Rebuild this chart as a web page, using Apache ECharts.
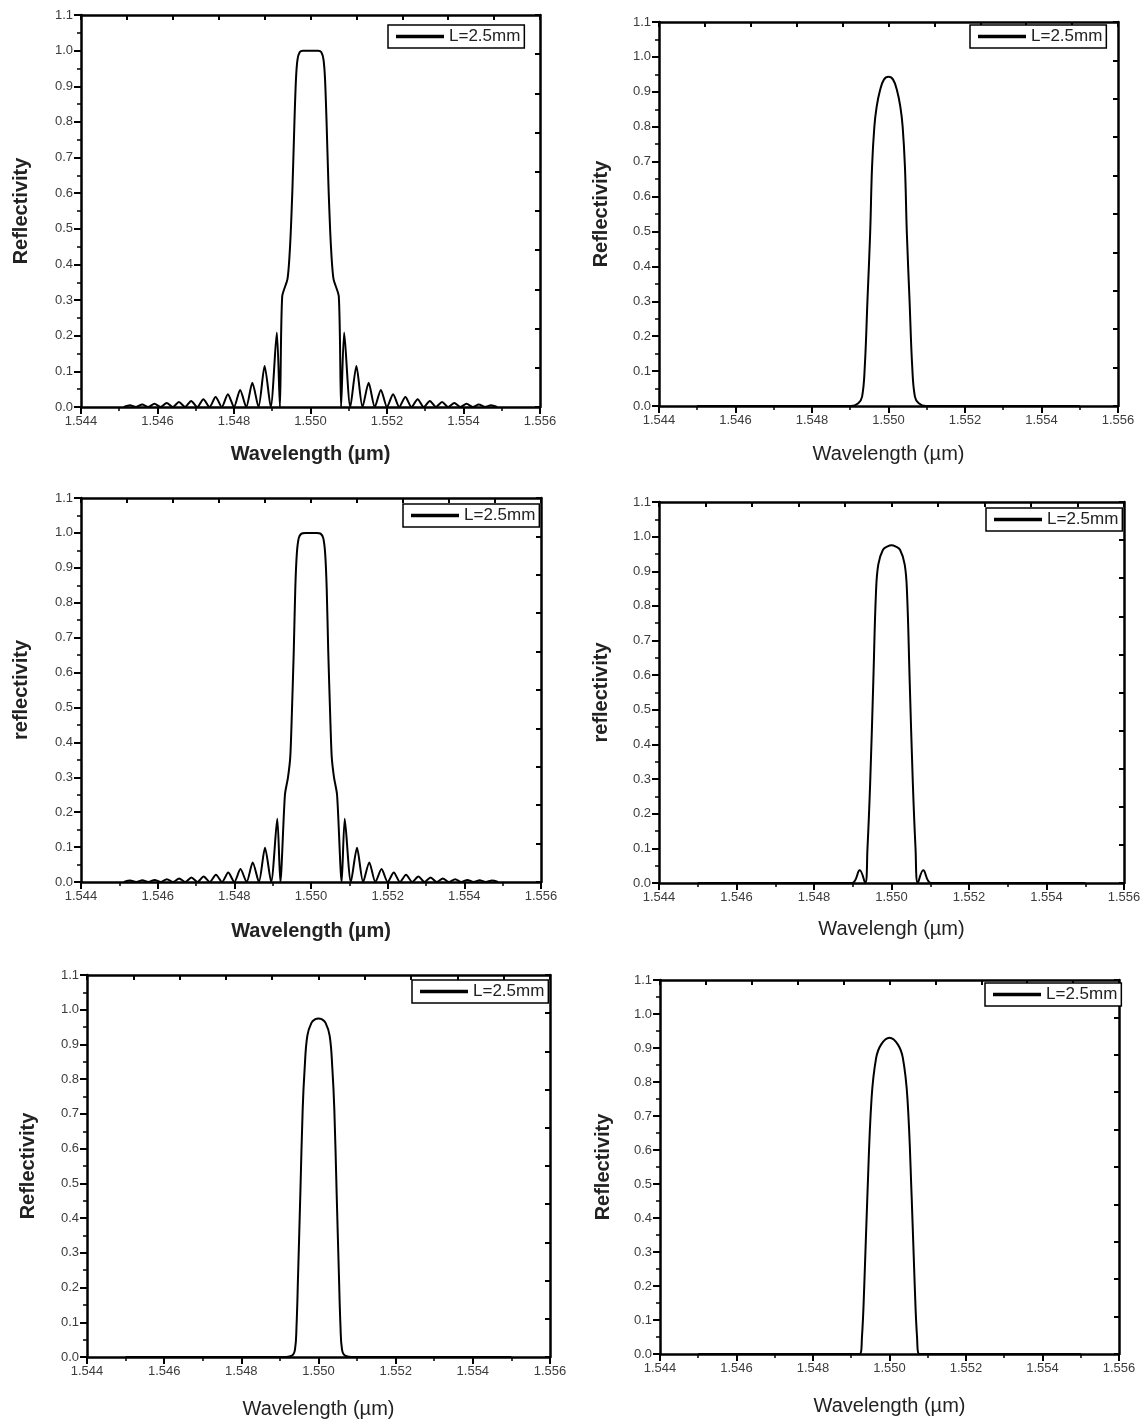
<!DOCTYPE html>
<html>
<head>
<meta charset="utf-8">
<title>Reflectivity spectra</title>
<script src="https://cdn.jsdelivr.net/npm/echarts@6/dist/echarts.min.js"></script>
<style>
    html, body {margin: 0; padding: 0; background: #ffffff;}
    #chart {width: 1143px; height: 1420px;}
</style>
</head>
<body>
<div id="chart"></div>
<script>
var seriesName = 'L=2.5mm';
var xTicks = [1.544, 1.546, 1.548, 1.550, 1.552, 1.554, 1.556];

// panel 1 (top left) - uniform grating with side lobes
var wl1 = [1.54512, 1.54528, 1.54544, 1.5456, 1.54576, 1.54592, 1.54608, 1.54624, 1.5464, 1.54656, 1.54672, 1.54688, 1.54704,
    1.5472, 1.54736, 1.54752, 1.54768, 1.54784, 1.548, 1.54816, 1.54832, 1.54848, 1.54864, 1.5488, 1.54896, 1.54912, 1.5492,
    1.54926, 1.5494, 1.54947, 1.54953, 1.54958, 1.54962, 1.54966, 1.54972, 1.5498, 1.55, 1.5502, 1.55028, 1.55034, 1.55038,
    1.55042, 1.55047, 1.55053, 1.5506, 1.55074, 1.5508, 1.55088, 1.55104, 1.5512, 1.55136, 1.55152, 1.55168, 1.55184, 1.552,
    1.55216, 1.55232, 1.55248, 1.55264, 1.5528, 1.55296, 1.55312, 1.55328, 1.55344, 1.5536, 1.55376, 1.55392, 1.55408, 1.55424,
    1.5544, 1.55456, 1.55472, 1.55488];
var r1 = [0, 0.005, 0, 0.007, 0, 0.009, 0, 0.011, 0, 0.014, 0, 0.017, 0,
    0.022, 0, 0.028, 0, 0.036, 0, 0.048, 0, 0.068, 0, 0.115, 0, 0.209, 0,
    0.31, 0.36, 0.46, 0.62, 0.80, 0.92, 0.975, 0.996, 1.0, 1.0, 1.0, 0.996, 0.975, 0.92,
    0.80, 0.62, 0.46, 0.36, 0.31, 0, 0.209, 0, 0.115, 0, 0.068, 0, 0.048, 0,
    0.036, 0, 0.028, 0, 0.022, 0, 0.017, 0, 0.014, 0, 0.011, 0, 0.009, 0,
    0.007, 0, 0.005, 0];

// panel 2 (top right)
var wl2 = [1.545, 1.54902, 1.54921, 1.54931, 1.54938, 1.54945, 1.54952, 1.54957, 1.54963, 1.54969, 1.54978, 1.54988, 1.55,
    1.55012, 1.55022, 1.55031, 1.55037, 1.55043, 1.55048, 1.55055, 1.55062, 1.55069, 1.55079, 1.55098, 1.555];
var r2 = [0, 0, 0.008, 0.027, 0.113, 0.303, 0.494, 0.685, 0.80, 0.857, 0.905, 0.935, 0.943,
    0.935, 0.905, 0.857, 0.80, 0.685, 0.494, 0.303, 0.113, 0.027, 0.008, 0, 0];

// panel 3 (middle left)
var wl3 = [1.54512, 1.54528, 1.54544, 1.5456, 1.54576, 1.54592, 1.54608, 1.54624, 1.5464, 1.54656, 1.54672, 1.54688, 1.54704,
    1.5472, 1.54736, 1.54752, 1.54768, 1.54784, 1.548, 1.54816, 1.54832, 1.54848, 1.54864, 1.5488, 1.54896, 1.54912, 1.5492,
    1.54932, 1.5494, 1.54946, 1.5495, 1.54955, 1.54959, 1.54963, 1.54968, 1.54975, 1.54985, 1.55, 1.55015, 1.55025, 1.55032,
    1.55037, 1.55041, 1.55045, 1.5505, 1.55054, 1.5506, 1.55068, 1.5508, 1.55088, 1.55104, 1.5512, 1.55136, 1.55152, 1.55168,
    1.55184, 1.552, 1.55216, 1.55232, 1.55248, 1.55264, 1.5528, 1.55296, 1.55312, 1.55328, 1.55344, 1.5536, 1.55376, 1.55392,
    1.55408, 1.55424, 1.5544, 1.55456, 1.55472, 1.55488];
var r3 = [0, 0.004, 0, 0.005, 0, 0.006, 0, 0.008, 0, 0.010, 0, 0.013, 0,
    0.016, 0, 0.021, 0, 0.027, 0, 0.037, 0, 0.056, 0, 0.098, 0, 0.181, 0,
    0.25, 0.30, 0.36, 0.48, 0.66, 0.84, 0.94, 0.985, 0.998, 1.0, 1.0, 1.0, 0.998, 0.985,
    0.94, 0.84, 0.66, 0.48, 0.36, 0.30, 0.25, 0, 0.181, 0, 0.098, 0, 0.056, 0,
    0.037, 0, 0.027, 0, 0.021, 0, 0.016, 0, 0.013, 0, 0.010, 0, 0.008, 0,
    0.006, 0, 0.005, 0, 0.004, 0];

// panel 4 (middle right) - small side lobes
var wl4 = [1.545, 1.54897, 1.54918, 1.54932, 1.54938, 1.54945, 1.54953, 1.5496, 1.54966, 1.54978, 1.5499, 1.55,
    1.5501, 1.55022, 1.55034, 1.5504, 1.55047, 1.55055, 1.55062, 1.55068, 1.55082, 1.55103, 1.555];
var r4 = [0, 0, 0.037, 0, 0.10, 0.29, 0.58, 0.84, 0.92, 0.962, 0.972, 0.975,
    0.972, 0.962, 0.92, 0.84, 0.58, 0.29, 0.10, 0, 0.037, 0, 0];

// panel 5 (bottom left)
var wl5 = [1.545, 1.54908, 1.54931, 1.54939, 1.54943, 1.54947, 1.54953, 1.54959, 1.54964, 1.54971, 1.54982, 1.54992, 1.55,
    1.55008, 1.55018, 1.55029, 1.55036, 1.55041, 1.55047, 1.55053, 1.55057, 1.55061, 1.55069, 1.55092, 1.555];
var r5 = [0, 0, 0.004, 0.021, 0.088, 0.233, 0.473, 0.713, 0.829, 0.925, 0.963, 0.973, 0.975,
    0.973, 0.963, 0.925, 0.829, 0.713, 0.473, 0.233, 0.088, 0.021, 0.004, 0, 0];

// panel 6 (bottom right)
var wl6 = [1.545, 1.54922, 1.54928, 1.54934, 1.54942, 1.54953, 1.54965, 1.54978, 1.55,
    1.55022, 1.55035, 1.55047, 1.55058, 1.55066, 1.55072, 1.55078, 1.555];
var r6 = [0, 0, 0.05, 0.20, 0.46, 0.75, 0.87, 0.91, 0.93,
    0.91, 0.87, 0.75, 0.46, 0.20, 0.05, 0, 0];

// panel frames [left, top, width, height], titles, legend box position
var panels = [
    {box: [81, 15, 459, 392], wl: wl1, r: r1, yName: 'Reflectivity', xName: 'Wavelength (µm)', bold: true, smooth: 0.25, legend: [388, 25], xGap: 37, yGap: 50},
    {box: [659, 22, 459, 384], wl: wl2, r: r2, yName: 'Reflectivity', xName: 'Wavelength (µm)', bold: false, smooth: 0.4, legend: [970, 25], xGap: 38, yGap: 48},
    {box: [81, 498, 460, 384], wl: wl3, r: r3, yName: 'reflectivity', xName: 'Wavelength (µm)', bold: true, smooth: 0.25, legend: [403, 504], xGap: 39, yGap: 50},
    {box: [659, 502, 465, 381], wl: wl4, r: r4, yName: 'reflectivity', xName: 'Wavelengh (µm)', bold: false, smooth: 0.4, legend: [986, 508], xGap: 36, yGap: 48},
    {box: [87, 975, 463, 382], wl: wl5, r: r5, yName: 'Reflectivity', xName: 'Wavelength (µm)', bold: false, smooth: 0.4, legend: [412, 980], xGap: 42, yGap: 49},
    {box: [660, 980, 459, 374], wl: wl6, r: r6, yName: 'Reflectivity', xName: 'Wavelength (µm)', bold: false, smooth: 0.4, legend: [985, 983], xGap: 42, yGap: 47}
];

function zip(xs, ys) {
    var out = [];
    for (var i = 0; i < xs.length; i++) {
        out.push([xs[i], ys[i]]);
    }
    return out;
}

var font = 'Liberation Sans, Arial, sans-serif';
var frame = {show: true, onZero: false, lineStyle: {color: '#000', width: 2.5}};

var grids = [], xAxes = [], yAxes = [], series = [], legends = [];

for (var i = 0; i < panels.length; i++) {
    var p = panels[i];
    grids.push({left: p.box[0], top: p.box[1], width: p.box[2], height: p.box[3], containLabel: false, outerBoundsMode: 'none'});

    // bottom axis
    xAxes.push({
        type: 'value', gridIndex: i, position: 'bottom',
        min: xTicks[0], max: xTicks[xTicks.length - 1], interval: 0.002,
        axisLine: frame,
        axisTick: {show: true, inside: false, length: 7, lineStyle: {color: '#000', width: 2}},
        minorTick: {show: true, splitNumber: 2, length: 4, lineStyle: {color: '#000', width: 1.5}},
        axisLabel: {
            margin: 8, color: '#3c3c3c', fontFamily: font, fontSize: 13,
            formatter: function (v) { return v.toFixed(3); }
        },
        splitLine: {show: false},
        name: p.xName, nameLocation: 'middle', nameGap: p.xGap,
        nameTextStyle: {color: '#222', fontFamily: font, fontSize: 20, fontWeight: p.bold ? 'bold' : 'normal'}
    });
    // top mirror axis
    xAxes.push({
        type: 'value', gridIndex: i, position: 'top', min: 0, max: 10, interval: 1,
        axisLine: frame,
        axisTick: {show: true, inside: true, length: 5, lineStyle: {color: '#000', width: 2}},
        axisLabel: {show: false}, splitLine: {show: false}
    });
    // left axis
    yAxes.push({
        type: 'value', gridIndex: i, position: 'left', min: 0, max: 1.1, interval: 0.1,
        axisLine: frame,
        axisTick: {show: true, inside: false, length: 7, lineStyle: {color: '#000', width: 2}},
        minorTick: {show: true, splitNumber: 2, length: 4, lineStyle: {color: '#000', width: 1.5}},
        axisLabel: {
            margin: 8, color: '#3c3c3c', fontFamily: font, fontSize: 13,
            formatter: function (v) { return v.toFixed(1); }
        },
        splitLine: {show: false},
        name: p.yName, nameLocation: 'middle', nameGap: p.yGap, nameRotate: 90,
        nameTextStyle: {color: '#222', fontFamily: font, fontSize: 20, fontWeight: 'bold'}
    });
    // right mirror axis
    yAxes.push({
        type: 'value', gridIndex: i, position: 'right', min: 0, max: 10, interval: 1,
        axisLine: frame,
        axisTick: {show: true, inside: true, length: 5, lineStyle: {color: '#000', width: 2}},
        axisLabel: {show: false}, splitLine: {show: false}
    });

    series.push({
        name: seriesName, type: 'line',
        xAxisIndex: 2 * i, yAxisIndex: 2 * i,
        data: zip(p.wl, p.r),
        symbol: 'none', smooth: p.smooth,
        lineStyle: {color: '#000', width: 2},
        itemStyle: {color: '#000'}
    });

    legends.push({
        left: p.legend[0], top: p.legend[1],
        data: [seriesName],
        orient: 'horizontal',
        backgroundColor: '#fff',
        borderColor: '#000', borderWidth: 1.5, borderRadius: 0,
        padding: [3, 4, 3, 8],
        icon: 'rect',
        itemWidth: 48, itemHeight: 3.5,
        itemStyle: {color: '#000'},
        textStyle: {color: '#222', fontFamily: font, fontSize: 17},
        selectedMode: false
    });
}

var myChart = echarts.init(document.getElementById('chart'), null, {renderer: 'canvas'});
myChart.setOption({
    backgroundColor: '#ffffff',
    animation: false,
    grid: grids,
    xAxis: xAxes,
    yAxis: yAxes,
    legend: legends,
    series: series
});
</script>
</body>
</html>
